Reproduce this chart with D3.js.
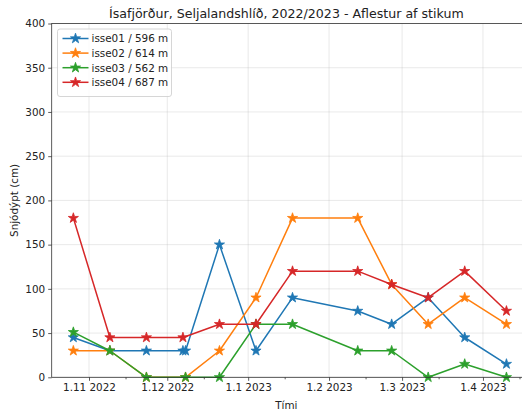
<!DOCTYPE html>
<html>
<head>
<meta charset="utf-8">
<script src="https://cdn.jsdelivr.net/npm/d3@7"></script>
<style>
  body { margin: 0; background: #fff; }
  svg { display: block; font-family: "DejaVu Sans", sans-serif; }
</style>
</head>
<body>
<div id="chart"></div>
<script>
// readings of the snow stakes, one date list per stake
var titleText = "Ísafjörður, Seljalandshlíð, 2022/2023 - Aflestur af stikum";
var seriesNames = ["isse01 / 596 m", "isse02 / 614 m", "isse03 / 562 m", "isse04 / 687 m"];
var seriesColors = ["#1f77b4", "#ff7f0e", "#2ca02c", "#d62728"];

var dates01 = ["2022-10-26","2022-11-09","2022-11-23","2022-12-07","2022-12-08","2022-12-21","2023-01-04","2023-01-18","2023-02-12","2023-02-25","2023-03-11","2023-03-25","2023-04-10"];
var depth01 = [45, 30, 30, 30, 30, 150, 30, 90, 75, 60, 90, 45, 15];

var dates02 = ["2022-10-26","2022-11-09","2022-11-23","2022-12-08","2022-12-21","2023-01-04","2023-01-18","2023-02-12","2023-02-25","2023-03-11","2023-03-25","2023-04-10"];
var depth02 = [30, 30, 0, 0, 30, 90, 180, 180, 105, 60, 90, 60];

var dates03 = ["2022-10-26","2022-11-09","2022-11-23","2022-12-08","2022-12-21","2023-01-04","2023-01-18","2023-02-12","2023-02-25","2023-03-11","2023-03-25","2023-04-10"];
var depth03 = [51, 30, 0, 0, 0, 60, 60, 30, 30, 0, 15, 0];

var dates04 = ["2022-10-26","2022-11-09","2022-11-23","2022-12-07","2022-12-21","2023-01-04","2023-01-18","2023-02-12","2023-02-25","2023-03-11","2023-03-25","2023-04-10"];
var depth04 = [180, 45, 45, 45, 60, 60, 120, 120, 105, 90, 120, 75];

var yTicks = [0, 50, 100, 150, 200, 250, 300, 350, 400];
var xLabel = "Tími";
var yLabel = "Snjódýpt (cm)";

var W = 522, H = 413;
var margin = {left: 51.7, top: 23.5, bottom: 377.3};
var fs = 10.4;
var parse = d3.timeParse("%Y-%m-%d");

var series = [
    {dates: dates01, vals: depth01},
    {dates: dates02, vals: depth02},
    {dates: dates03, vals: depth03},
    {dates: dates04, vals: depth04}
].map(function (s, i) {
    return {
        name: seriesNames[i],
        color: seriesColors[i],
        pts: s.dates.map(function (d, j) { return {t: parse(d), v: s.vals[j]}; })
    };
});

// matplotlib style 5% padding on the time axis
var allT = [].concat.apply([], series.map(function (s) { return s.pts.map(function (p) { return p.t; }); }));
var tMin = d3.min(allT), tMax = d3.max(allT);
var pad = (tMax - tMin) * 0.05;
var pxPerDay = 2.609;
var spanDays = (tMax - tMin + 2 * pad) / 864e5;

var x = d3.scaleTime()
    .domain([new Date(+tMin - pad), new Date(+tMax + pad)])
    .range([margin.left, margin.left + spanDays * pxPerDay]);
var y = d3.scaleLinear().domain([0, 400]).range([margin.bottom, margin.top]);
var right = x.range()[1];

var svg = d3.select("#chart").append("svg")
    .attr("width", W).attr("height", H);

// grid
var xMajor = x.ticks(d3.timeMonth.every(1));
var xMinor = d3.timeDay.range(x.domain()[0], x.domain()[1]).filter(function (d) { return d.getDate() === 15; });

svg.append("g").selectAll("line").data(xMajor).join("line")
    .attr("x1", function (d) { return x(d); }).attr("x2", function (d) { return x(d); })
    .attr("y1", margin.top).attr("y2", margin.bottom)
    .attr("stroke", "#b0b0b0").attr("stroke-opacity", 0.35).attr("stroke-width", 0.8);
svg.append("g").selectAll("line").data(yTicks).join("line")
    .attr("x1", margin.left).attr("x2", right)
    .attr("y1", function (d) { return y(d); }).attr("y2", function (d) { return y(d); })
    .attr("stroke", "#b0b0b0").attr("stroke-opacity", 0.35).attr("stroke-width", 0.8);

// lines + star markers
var line = d3.line().x(function (p) { return x(p.t); }).y(function (p) { return y(p.v); });
var star = d3.symbol().type(d3.symbolStar).size(32);

series.forEach(function (s) {
    var g = svg.append("g");
    g.append("path").datum(s.pts)
        .attr("d", line)
        .attr("fill", "none").attr("stroke", s.color).attr("stroke-width", 1.5)
        .attr("stroke-linejoin", "round");
    g.selectAll("path.m").data(s.pts).join("path").attr("class", "m")
        .attr("d", star)
        .attr("transform", function (p) { return "translate(" + x(p.t) + "," + y(p.v) + ")"; })
        .attr("fill", s.color).attr("stroke", s.color).attr("stroke-width", 0.8);
});

// frame
svg.append("rect")
    .attr("x", margin.left).attr("y", margin.top)
    .attr("width", right - margin.left).attr("height", margin.bottom - margin.top)
    .attr("fill", "none").attr("stroke", "#333").attr("stroke-width", 0.8);

// axes
var xAxis = d3.axisBottom(x).tickValues(xMajor).tickFormat(d3.timeFormat("%-d.%-m %Y")).tickSizeOuter(0).tickSize(3.5).tickPadding(3);
var gx = svg.append("g").attr("transform", "translate(0," + margin.bottom + ")").call(xAxis);
svg.append("g").attr("transform", "translate(0," + margin.bottom + ")")
    .call(d3.axisBottom(x).tickValues(xMinor).tickFormat("").tickSizeOuter(0).tickSize(2))
    .select(".domain").remove();

var gy = svg.append("g").attr("transform", "translate(" + margin.left + ",0)")
    .call(d3.axisLeft(y).tickValues(yTicks).tickSizeOuter(0).tickSize(3.5).tickPadding(3));

[gx, gy].forEach(function (g) {
    g.select(".domain").remove();
    g.selectAll("text").attr("font-size", fs).attr("fill", "#222").attr("font-family", "DejaVu Sans");
});
svg.selectAll(".tick line").attr("stroke", "#333").attr("stroke-width", 0.8);

// labels
var midX = (margin.left + 521) / 2;
svg.append("text").attr("x", midX).attr("y", 17.5)
    .attr("text-anchor", "middle").attr("font-size", 12.6).attr("fill", "#222")
    .text(titleText);
svg.append("text").attr("x", midX).attr("y", 408.5)
    .attr("text-anchor", "middle").attr("font-size", fs).attr("fill", "#222")
    .text(xLabel);
svg.append("text")
    .attr("transform", "translate(18," + ((margin.top + margin.bottom) / 2) + ") rotate(-90)")
    .attr("text-anchor", "middle").attr("font-size", fs).attr("fill", "#222")
    .text(yLabel);

// legend
var lg = svg.append("g").attr("transform", "translate(57.5,29)");
lg.append("rect").attr("width", 114).attr("height", 67.5).attr("rx", 2.5)
    .attr("fill", "#fff").attr("fill-opacity", 0.8)
    .attr("stroke", "#ccc").attr("stroke-width", 0.8);
series.forEach(function (s, i) {
    var yy = 9.5 + i * 14.6;
    lg.append("line").attr("x1", 5).attr("x2", 31).attr("y1", yy).attr("y2", yy)
        .attr("stroke", s.color).attr("stroke-width", 1.5);
    lg.append("path").attr("d", star).attr("transform", "translate(18," + yy + ")")
        .attr("fill", s.color).attr("stroke", s.color).attr("stroke-width", 0.8);
    lg.append("text").attr("x", 34).attr("y", yy + 3.8)
        .attr("font-size", fs).attr("fill", "#222")
        .text(s.name);
});
</script>
</body>
</html>
